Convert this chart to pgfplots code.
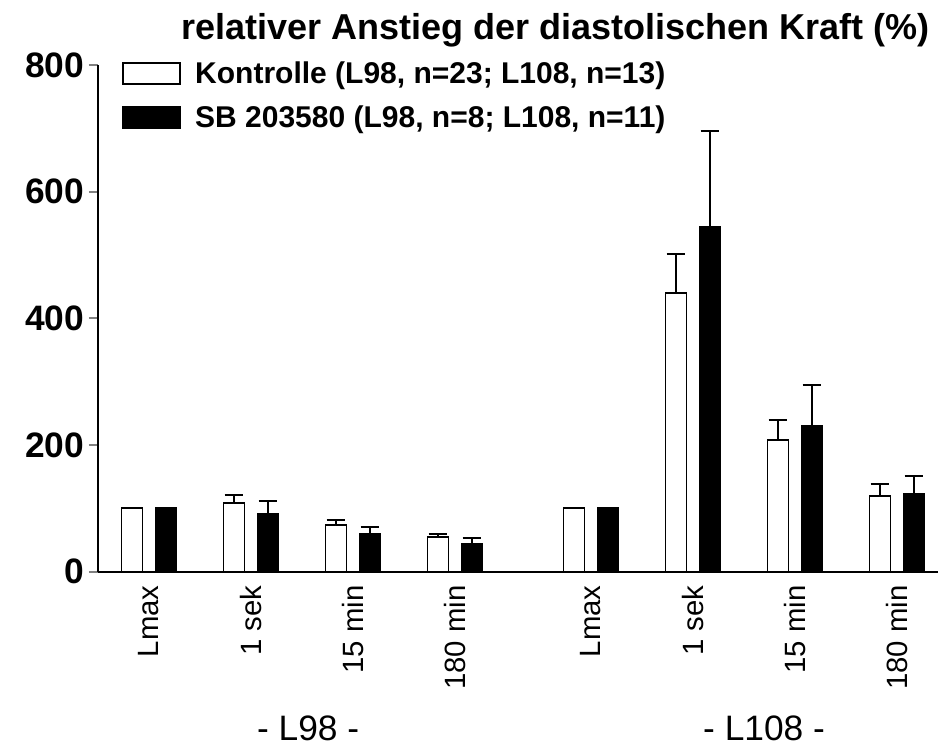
\documentclass[border=0pt]{standalone}
\usepackage{fontspec}
\setmainfont{Liberation Sans}
\usepackage{pgfplots}
\pgfplotsset{compat=1.18}

\begin{document}
\begin{tikzpicture}
\begin{axis}[
  name=ax,
  scale only axis,
  width=630pt, height=380pt,
  xmin=-0.5, xmax=7.735,
  ymin=0, ymax=800,
  axis x line*=bottom, axis y line*=left,
  axis line style={line width=1.5pt},
  ytick={0,200,...,800},
  xtick={0,1,2,3,4.333,5.333,6.333,7.333},
  xticklabels={Lmax,1 sek,15 min,180 min,Lmax,1 sek,15 min,180 min},
  x tick label style={rotate=90, anchor=east, font=\fontsize{22}{22}\selectfont},
  y tick label style={font=\bfseries\fontsize{26.5}{26.5}\selectfont},
  /pgf/number format/assume math mode=true,
  tick align=outside,
  major tick length=6.75pt,
  ytick style={line width=1.5pt},
  xtick style={draw=none},
  ybar, bar width=0.206,
  clip=false,
  legend style={draw=none, fill=none, at={(axis description cs:0.0286,1.012)},
    anchor=north west, inner sep=0pt, row sep=11pt,
    font=\bfseries\fontsize{22.5}{22.5}\selectfont,
    cells={anchor=west}},
  error bars/y dir=plus, error bars/y explicit,
  error bars/error mark options={rotate=90, line width=1.5pt, mark size=7pt},
  error bars/error bar style={line width=1.5pt},
]
\addplot[draw=black, fill=white, line width=1.4pt, bar shift=-0.167,
  legend image code/.code={\draw[draw=black, fill=white, line width=1.4pt] (0pt,-7.75pt) rectangle (42.75pt,7.75pt);
    \path[draw=none, fill=none] (0pt,0pt) -- (52pt,0pt);}]
  coordinates {
  (0,100) +- (0,0)
  (1,108) +- (0,13)
  (2,73) +- (0,8)
  (3,55) +- (0,5)
  (4.333,100) +- (0,0)
  (5.333,440) +- (0,62)
  (6.333,208) +- (0,31)
  (7.333,119) +- (0,20)
  };
\addlegendentry{Kontrolle (L98, n=23; L108, n=13)}
\addplot[draw=black, fill=black, line width=1.4pt, bar shift=0.167,
  legend image code/.code={\draw[draw=black, fill=black, line width=1.4pt] (0pt,-7.75pt) rectangle (42.75pt,7.75pt);
    \path[draw=none, fill=none] (0pt,0pt) -- (52pt,0pt);}]
  coordinates {
  (0,100) +- (0,0)
  (1,91) +- (0,20)
  (2,59) +- (0,11)
  (3,44) +- (0,9)
  (4.333,100) +- (0,0)
  (5.333,545) +- (0,150)
  (6.333,230) +- (0,64)
  (7.333,123) +- (0,28)
  };
\addlegendentry{SB 203580 (L98, n=8; L108, n=11)}
\node[font=\bfseries\fontsize{27}{27}\selectfont, anchor=east, inner sep=0pt]
  at (axis description cs:0.99,1.069) {relativer Anstieg der diastolischen Kraft (\%)};
\node[font=\fontsize{26.5}{26.5}\selectfont, anchor=base] at (axis cs:1.56,-266) {- L98 -};
\node[font=\fontsize{26.5}{26.5}\selectfont, anchor=base] at (axis cs:6.03,-266) {- L108 -};
\end{axis}
\pgfresetboundingbox
\path ([xshift=-73.5pt,yshift=-133pt]ax.south west) rectangle ([yshift=48.75pt]ax.north east);
\end{tikzpicture}
\end{document}
